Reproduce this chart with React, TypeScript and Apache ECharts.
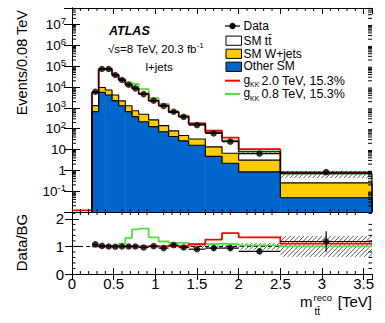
import React, { useEffect, useRef } from "react";
import * as echarts from "echarts";

// ---------------- data ----------------
const binEdges = [0.24, 0.32, 0.4, 0.48, 0.56, 0.64, 0.72, 0.8, 0.92, 1.04, 1.16, 1.28, 1.4, 1.6, 1.8, 2.0, 2.5, 3.6];
const dataEvents = [6000, 74000, 74000, 38000, 22000, 12900, 8700, 4600, 2240, 1230, 650, 370, 150, 60, 24, 6.4, 0.82];
// cumulative stack tops
const smTotal = [5560, 72500, 74000, 38400, 22000, 12900, 8700, 4790, 2220, 1310, 620, 385, 167, 64, 25.5, 7.8, 0.69];
const wjetsPlusOther = [1290, 9500, 7200, 4200, 2180, 1260, 725, 500, 265, 141, 79, 47, 32, 13.5, 6.6, 3.1, 0.25];
const otherSM = [660, 5600, 4200, 2240, 1260, 660, 380, 218, 126, 72, 42, 26, 16, 4.7, 2.2, 0.85, 0.048];
const gkk20Stack = [5560, 72500, 74000, 38400, 22000, 12900, 8700, 4790, 2220, 1320, 626, 393, 180, 80, 37.7, 10.4, 0.76];
const gkk08Stack = [5560, 72500, 74000, 39500, 24200, 16900, 14100, 7900, 2950, 1550, 700, 430, 179, 70, 27.5, 8.1, 0.69];
const gkk20Underflow = 0.012;
const bgRelUnc = [0.03, 0.03, 0.03, 0.03, 0.03, 0.03, 0.03, 0.04, 0.04, 0.04, 0.05, 0.05, 0.06, 0.08, 0.09, 0.12, 0.38];
const ratioData = [1.08, 1.02, 1.0, 0.99, 1.0, 1.0, 1.0, 0.96, 1.01, 0.94, 1.05, 0.96, 0.9, 0.94, 0.94, 0.82, 1.18];
const ratioDataErr = [0.01, 0.005, 0.005, 0.005, 0.01, 0.01, 0.01, 0.015, 0.02, 0.03, 0.04, 0.05, 0.06, 0.08, 0.08, 0.1, 0.37];
const ratioGkk20 = [1.0, 1.0, 1.0, 1.0, 1.0, 1.0, 1.0, 1.0, 1.0, 1.01, 1.01, 1.02, 1.08, 1.25, 1.48, 1.33, 1.1];
const ratioGkk08 = [1.0, 1.0, 1.0, 1.03, 1.1, 1.31, 1.62, 1.65, 1.33, 1.18, 1.13, 1.12, 1.08, 1.1, 1.08, 1.04, 1.0];

const legendLabels = ["Data", "SM tt\u0304", "SM W+jets", "Other SM", "2.0 TeV, 15.3%", "0.8 TeV, 15.3%"];

// ---------------- style constants ----------------
const FONT = '"Liberation Sans", Arial, Helvetica, sans-serif';
const BLUE = "#0066cc";
const YELLOW = "#ffcc00";
const RED = "#ff0000";
const GREEN = "#55dd44";
const Y_MIN = 0.01;
const Y_MAX = 6.3e7;
const X_MAX = 3.6;
const R_MAX = 2.25;

const nBins = binEdges.length - 1;
const centers = binEdges.slice(0, nBins).map((e, i) => (e + binEdges[i + 1]) / 2);

function stepPts(vals: number[], floor?: number, pre?: number[][]) {
  const pts: number[][] = pre ? [...pre] : [];
  if (floor != null) pts.push([binEdges[0], floor]);
  vals.forEach((v, i) => {
    pts.push([binEdges[i], v]);
    pts.push([binEdges[i + 1], v]);
  });
  if (floor != null) pts.push([binEdges[nBins], floor]);
  return pts;
}

function stepLine(pts: number[][], color: string, width: number, xi: number, yi: number, z: number, dash?: any) {
  return {
    type: "line",
    xAxisIndex: xi,
    yAxisIndex: yi,
    data: pts,
    symbol: "none",
    showSymbol: false,
    silent: true,
    z,
    lineStyle: { color, width, type: dash || "solid" },
  };
}

function fillLayer(vals: number[], color: string, z: number) {
  return {
    type: "custom",
    xAxisIndex: 0,
    yAxisIndex: 0,
    silent: true,
    z,
    data: vals.map((v, i) => [binEdges[i], binEdges[i + 1], v, Y_MIN]),
    encode: { x: [0, 1], y: [2, 3] },
    renderItem: (_p: any, api: any) => {
      const a = api.coord([api.value(0), api.value(2)]);
      const b = api.coord([api.value(1), api.value(3)]);
      return {
        type: "rect",
        shape: { x: a[0], y: a[1], width: b[0] - a[0] + 0.4, height: b[1] - a[1] },
        style: { fill: color },
      };
    },
  };
}

function hatchLayer(lo: number[], hi: number[], xi: number, yi: number, z: number) {
  return {
    type: "custom",
    xAxisIndex: xi,
    yAxisIndex: yi,
    silent: true,
    z,
    data: lo.map((l, i) => [binEdges[i], binEdges[i + 1], l, hi[i]]),
    encode: { x: [0, 1], y: [2, 3] },
    renderItem: (_p: any, api: any) => {
      const a = api.coord([api.value(0), api.value(3)]);
      const b = api.coord([api.value(1), api.value(2)]);
      const x0 = a[0], x1 = b[0], yt = a[1], yb = b[1];
      const S = 4.5;
      const children: any[] = [];
      for (let K = Math.ceil((x0 + yt) / S) * S; K <= x1 + yb; K += S) {
        const xa = Math.max(x0, K - yb);
        const xb = Math.min(x1, K - yt);
        if (xb > xa + 0.2) {
          children.push({
            type: "line",
            shape: { x1: xa, y1: K - xa, x2: xb, y2: K - xb },
            style: { stroke: "#333", lineWidth: 0.8 },
          });
        }
      }
      return { type: "group", children };
    },
  };
}

function dataBars(vals: number[], err: number[] | null, xi: number, yi: number, z: number) {
  return {
    type: "custom",
    xAxisIndex: xi,
    yAxisIndex: yi,
    silent: true,
    z,
    data: vals.map((v, i) => [binEdges[i], binEdges[i + 1], v, err ? v - err[i] : v, err ? v + err[i] : v]),
    encode: { x: [0, 1], y: [2, 3, 4] },
    renderItem: (_p: any, api: any) => {
      const a = api.coord([api.value(0), api.value(2)]);
      const b = api.coord([api.value(1), api.value(2)]);
      const xc = (a[0] + b[0]) / 2;
      const lo = api.coord([0, api.value(3)]);
      const hi = api.coord([0, api.value(4)]);
      return {
        type: "group",
        children: [
          { type: "line", shape: { x1: a[0], y1: a[1], x2: b[0], y2: b[1] }, style: { stroke: "#000", lineWidth: 1.2 } },
          { type: "line", shape: { x1: xc, y1: lo[1], x2: xc, y2: hi[1] }, style: { stroke: "#000", lineWidth: 1.2 } },
        ],
      };
    },
  };
}

function markers(vals: number[], xi: number, yi: number, z: number) {
  return {
    type: "scatter",
    xAxisIndex: xi,
    yAxisIndex: yi,
    silent: true,
    z,
    symbol: "circle",
    symbolSize: 6.5,
    itemStyle: { color: "#000" },
    data: vals.map((v, i) => [centers[i], v]),
  };
}

function yMinor(values: number[], xi: number, yi: number, len: number) {
  return {
    type: "custom",
    xAxisIndex: xi,
    yAxisIndex: yi,
    silent: true,
    z: 30,
    data: values.map((v) => [0, v]),
    encode: { x: 0, y: 1 },
    renderItem: (_p: any, api: any) => {
      const v = api.value(1);
      const a = api.coord([0, v]);
      const b = api.coord([X_MAX, v]);
      return {
        type: "group",
        children: [
          { type: "line", shape: { x1: a[0], y1: a[1], x2: a[0] + len, y2: a[1] }, style: { stroke: "#000", lineWidth: 1 } },
          { type: "line", shape: { x1: b[0] - len, y1: b[1], x2: b[0], y2: b[1] }, style: { stroke: "#000", lineWidth: 1 } },
        ],
      };
    },
  };
}

function xMinor(values: number[], xi: number, yi: number, ylo: number, yhi: number, len: number) {
  return {
    type: "custom",
    xAxisIndex: xi,
    yAxisIndex: yi,
    silent: true,
    z: 30,
    data: values.map((v) => [v, ylo]),
    encode: { x: 0, y: 1 },
    renderItem: (_p: any, api: any) => {
      const v = api.value(0);
      const a = api.coord([v, ylo]);
      const b = api.coord([v, yhi]);
      return {
        type: "group",
        children: [
          { type: "line", shape: { x1: a[0], y1: a[1], x2: a[0], y2: a[1] - len }, style: { stroke: "#000", lineWidth: 1 } },
          { type: "line", shape: { x1: b[0], y1: b[1], x2: b[0], y2: b[1] + len }, style: { stroke: "#000", lineWidth: 1 } },
        ],
      };
    },
  };
}

// tick positions (axis structure)
const logMinor: number[] = [];
for (let n = -2; n <= 7; n++) for (let m = 2; m <= 9; m++) { const v = m * Math.pow(10, n); if (v < Y_MAX) logMinor.push(v); }
const xMinorVals: number[] = [];
for (let i = 1; i <= 35; i++) if (i % 5 !== 0) xMinorVals.push(i / 10);
const rMinorVals = [0.2, 0.4, 0.6, 0.8, 1.2, 1.4, 1.6, 1.8, 2.2];

const axisLine = { show: true, lineStyle: { color: "#000", width: 1 } };
const noSplit = { show: false };

function xAx(grid: number, pos: string, labels: boolean) {
  return {
    gridIndex: grid,
    type: "value",
    position: pos,
    min: 0,
    max: X_MAX,
    interval: 0.5,
    axisLine,
    axisTick: { show: true, inside: true, length: 6, lineStyle: { color: "#000" } },
    axisLabel: labels
      ? { show: true, fontSize: 15, fontFamily: FONT, color: "#000", margin: 2, showMaxLabel: false }
      : { show: false },
    splitLine: noSplit,
  };
}

function logLabel(v: number) {
  const e = Math.round(Math.log10(v));
  if (e === 0) return "{b|1}";
  if (e === 1) return "{b|10}";
  return `{b|10}{s|${e}}`;
}

const txt = (x: number, y: number, text: string, size: number, extra: any = {}) => ({
  type: "text",
  x,
  y,
  z: 100,
  silent: true,
  style: {
    text,
    fontSize: size,
    fontFamily: FONT,
    fill: "#000",
    align: "left",
    verticalAlign: "middle",
    textAlign: "left",
    textVerticalAlign: "middle",
    ...extra,
  },
});

const rowsY = [26, 40.7, 53.8, 66.8, 80.7, 94];
const legendGraphics: any[] = [
  { type: "line", z: 100, shape: { x1: 225, y1: rowsY[0], x2: 240, y2: rowsY[0] }, style: { stroke: "#000", lineWidth: 1.2 } },
  { type: "circle", z: 101, shape: { cx: 232.5, cy: rowsY[0], r: 3.2 }, style: { fill: "#000" } },
  { type: "rect", z: 100, shape: { x: 226, y: rowsY[1] - 4.6, width: 15.5, height: 9.2 }, style: { fill: "#fff", stroke: "#000", lineWidth: 1 } },
  { type: "rect", z: 100, shape: { x: 226, y: rowsY[2] - 4.6, width: 15.5, height: 9.2 }, style: { fill: YELLOW, stroke: "#000", lineWidth: 1 } },
  { type: "rect", z: 100, shape: { x: 226, y: rowsY[3] - 4.6, width: 15.5, height: 9.2 }, style: { fill: BLUE, stroke: "#000", lineWidth: 1 } },
  { type: "line", z: 100, shape: { x1: 225, y1: rowsY[4], x2: 240, y2: rowsY[4] }, style: { stroke: RED, lineWidth: 2 } },
  { type: "line", z: 100, shape: { x1: 225, y1: rowsY[5], x2: 240, y2: rowsY[5] }, style: { stroke: GREEN, lineWidth: 2 } },
  txt(243.5, rowsY[0], legendLabels[0], 12),
  txt(243.5, rowsY[1], legendLabels[1], 12),
  txt(243.5, rowsY[2], legendLabels[2], 12),
  txt(243.5, rowsY[3] - 0.5, legendLabels[3], 12),
  txt(243.5, rowsY[4] - 0.8, "g", 12),
  txt(250, rowsY[4] + 4.2, "KK", 7),
  txt(261.5, rowsY[4], legendLabels[4], 12.5),
  txt(243.5, rowsY[5] - 0.8, "g", 12),
  txt(250, rowsY[5] + 4.2, "KK", 7),
  txt(261.5, rowsY[5], legendLabels[5], 12.5),
];

const option: any = {
  animation: false,
  backgroundColor: "#fff",
  grid: [
    { left: 72, top: 8, width: 300, height: 204, containLabel: false },
    { left: 72, top: 212, width: 300, height: 62, containLabel: false },
  ],
  xAxis: [xAx(0, "bottom", false), xAx(0, "top", false), xAx(1, "bottom", true), xAx(1, "top", false)],
  yAxis: [
    {
      gridIndex: 0,
      type: "log",
      logBase: 10,
      min: Y_MIN,
      max: Y_MAX,
      splitNumber: 10,
      position: "left",
      axisLine,
      axisTick: { show: true, inside: true, length: 8, lineStyle: { color: "#000" } },
      axisLabel: {
        show: true,
        margin: 6,
        showMinLabel: false,
        showMaxLabel: false,
        formatter: logLabel,
        rich: {
          b: { fontSize: 13.5, fontFamily: FONT, color: "#000", lineHeight: 18 },
          s: { fontSize: 9.5, fontFamily: FONT, color: "#000", lineHeight: 9, verticalAlign: "top" },
        },
      },
      splitLine: noSplit,
    },
    {
      gridIndex: 0,
      type: "log",
      logBase: 10,
      min: Y_MIN,
      max: Y_MAX,
      splitNumber: 10,
      position: "right",
      axisLine,
      axisTick: { show: true, inside: true, length: 8, lineStyle: { color: "#000" } },
      axisLabel: { show: false },
      splitLine: noSplit,
    },
    {
      gridIndex: 1,
      type: "value",
      min: 0,
      max: R_MAX,
      interval: 1,
      position: "left",
      axisLine,
      axisTick: { show: true, inside: true, length: 7, lineStyle: { color: "#000" } },
      axisLabel: { show: true, fontSize: 15, fontFamily: FONT, color: "#000", margin: 8, showMaxLabel: false },
      splitLine: noSplit,
    },
    {
      gridIndex: 1,
      type: "value",
      min: 0,
      max: R_MAX,
      interval: 1,
      position: "right",
      axisLine,
      axisTick: { show: true, inside: true, length: 7, lineStyle: { color: "#000" } },
      axisLabel: { show: false },
      splitLine: noSplit,
    },
  ],
  series: [
    // main panel
    fillLayer(smTotal, "#ffffff", 1),
    fillLayer(wjetsPlusOther, YELLOW, 2),
    fillLayer(otherSM, BLUE, 3),
    hatchLayer(smTotal.map((v, i) => v * (1 - bgRelUnc[i])), smTotal.map((v, i) => v * (1 + bgRelUnc[i])), 0, 0, 4),
    stepLine(stepPts(gkk08Stack), GREEN, 1.8, 0, 0, 5),
    stepLine(stepPts(gkk20Stack, undefined, [[0, gkk20Underflow], [binEdges[0], gkk20Underflow]]), RED, 1.8, 0, 0, 6),
    stepLine(stepPts(otherSM, Y_MIN), "#000", 1.1, 0, 0, 7),
    stepLine(stepPts(wjetsPlusOther, Y_MIN), "#000", 1.1, 0, 0, 7),
    stepLine(stepPts(smTotal, Y_MIN), "#000", 1.1, 0, 0, 7),
    dataBars(dataEvents, null, 0, 0, 8),
    markers(dataEvents, 0, 0, 9),
    yMinor(logMinor, 0, 0, 4),
    xMinor(xMinorVals, 0, 0, Y_MIN, Y_MAX, 3),
    // ratio panel
    hatchLayer(bgRelUnc.map((u) => 1 - u), bgRelUnc.map((u) => 1 + u), 2, 2, 4),
    stepLine([[0, 1], [X_MAX, 1]], "#000", 1, 2, 2, 5, [4, 3]),
    stepLine(stepPts(ratioGkk08), GREEN, 1.8, 2, 2, 6),
    stepLine(stepPts(ratioGkk20), RED, 1.8, 2, 2, 7),
    dataBars(ratioData, ratioDataErr, 2, 2, 8),
    markers(ratioData, 2, 2, 9),
    yMinor(rMinorVals, 2, 2, 3.5),
    xMinor(xMinorVals, 2, 2, 0, R_MAX, 3),
  ],
  graphic: [
    { ...txt(22, 10, "Events/0.08 TeV", 14.5, { align: "right", textAlign: "right" }), rotation: Math.PI / 2 },
    { ...txt(21.5, 242.5, "Data/BG", 15, { align: "center", textAlign: "center" }), rotation: Math.PI / 2 },
    txt(109, 31, "ATLAS", 12.5, { fontWeight: "bold", fontStyle: "italic" }),
    {
      type: "text",
      x: 108,
      y: 48.5,
      z: 100,
      silent: true,
      style: {
        text: "{b|\u221As=8 TeV, 20.3 fb}{s|-1}",
        fill: "#000",
        align: "left",
        verticalAlign: "middle",
        rich: {
          b: { fontSize: 11.5, fontFamily: FONT, fill: "#000", lineHeight: 14 },
          s: { fontSize: 8, fontFamily: FONT, fill: "#000", lineHeight: 8, verticalAlign: "top" },
        },
      },
    },
    txt(145.5, 67, "l+jets", 11.5),
    ...legendGraphics,
    txt(300, 301, "m", 15),
    txt(313.5, 297, "reco", 9.5),
    txt(314.5, 311.5, "tt\u0304", 10),
    txt(372, 301, "[TeV]", 15, { align: "right", textAlign: "right" }),
  ],
};

export default function App() {
  const ref = useRef<HTMLDivElement>(null);
  useEffect(() => {
    if (!ref.current) return;
    const chart = echarts.init(ref.current, null, { renderer: "svg" });
    chart.setOption(option);
    return () => chart.dispose();
  }, []);
  return (
    <div
      ref={ref}
      style={{ position: "fixed", left: 0, top: 0, width: 385, height: 323, background: "#fff" }}
    />
  );
}
